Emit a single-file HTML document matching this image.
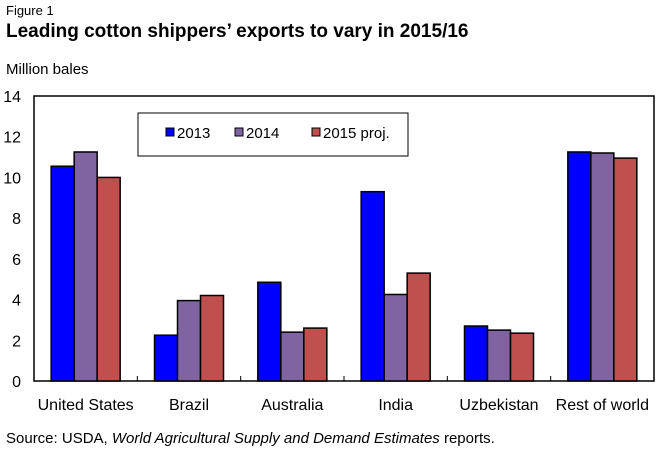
<!DOCTYPE html>
<html><head><meta charset="utf-8"><style>
body{margin:0;background:#fff;font-family:"Liberation Sans",Arial,sans-serif;}
#wrap{position:relative;width:664px;height:453px;overflow:hidden;}
</style></head><body>
<div id="wrap">
<svg id="svg" width="664" height="453" xmlns="http://www.w3.org/2000/svg">
<text x="6" y="15" font-size="13">Figure 1</text>
<text x="6" y="37" font-size="19" font-weight="bold">Leading cotton shippers’ exports to vary in 2015/16</text>
<text x="6" y="74" font-size="15">Million bales</text>
<text x="6" y="443" font-size="15">Source:  USDA, <tspan font-style="italic">World Agricultural Supply and Demand Estimates</tspan> reports.</text>
<g id="plot"></g>
</svg>
</div>
<script>
const categories=["United States","Brazil","Australia","India","Uzbekistan","Rest of world"];
const series=["2013","2014","2015 proj."];
const v2013=[10.55,2.25,4.85,9.3,2.7,11.25];
const v2014=[11.25,3.95,2.4,4.25,2.5,11.2];
const v2015=[10.0,4.2,2.6,5.3,2.35,10.95];
const yTicks=[0,2,4,6,8,10,12,14];
const colors=["#0000ff","#8064a2","#c0504d"];
const NS="http://www.w3.org/2000/svg";
const L=34,R=654,T=96,B=381,yMax=14;
const y=v=>B-(v/yMax)*(B-T);
const gw=(R-L)/categories.length;
const bw=23;
const g=document.getElementById('plot');
function mk(t,a){const e=document.createElementNS(NS,t);for(const k in a)e.setAttribute(k,a[k]);g.appendChild(e);return e;}
const frame=mk('rect',{x:L,y:T,width:R-L,height:B-T,fill:'none',stroke:'#000','stroke-width':1.5});


yTicks.forEach(t=>{
 const tx=mk('text',{x:L-13,y:y(t)+6,'font-size':16,'text-anchor':'end'});
 tx.textContent=t;
 
 
});
const data=[v2013,v2014,v2015];
categories.forEach((c,i)=>{
 const cx=L+gw*(i+0.5);
 if(i>0){const tk=mk('line',{x1:L+gw*i,x2:L+gw*i,y1:B,y2:B-5,stroke:'#000'});
 
 }
 data.forEach((s,j)=>{
  const x=cx-1.5*bw+j*bw;
  const r=mk('rect',{x:x,y:y(s[i]),width:bw,height:B-y(s[i]),fill:colors[j],stroke:'#000','stroke-width':1.5});
  
  
 });
 const lb=mk('text',{x:cx,y:410,'font-size':16,'text-anchor':'middle'});
 lb.textContent=c;
 
 
});
const lg=mk('rect',{x:138,y:113,width:270,height:43,fill:'#fff',stroke:'#000','stroke-width':1});


const lx=[166,235,312];
series.forEach((s,j)=>{
 const sw=mk('rect',{x:lx[j],y:128,width:8,height:8,fill:colors[j],stroke:'#000','stroke-width':1});
 
 
 const t=mk('text',{x:lx[j]+11,y:138,'font-size':15});
 t.textContent=s;
 
 
});
</script>
</body></html>
